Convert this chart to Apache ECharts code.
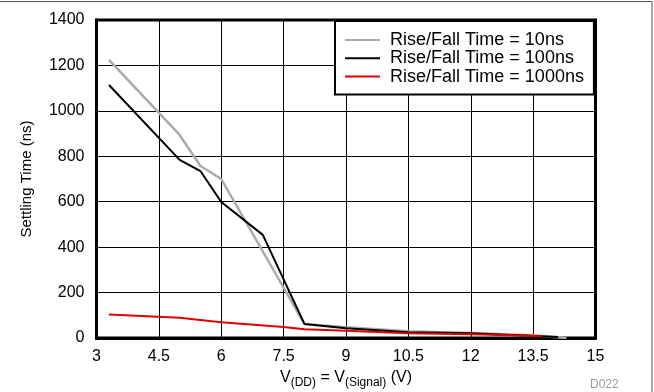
<!DOCTYPE html>
<html>
<head>
<meta charset="utf-8">
<script src="https://cdn.jsdelivr.net/npm/echarts@6/dist/echarts.min.js"></script>
<style>
html,body{margin:0;padding:0;background:#fff;}
#chart{width:654px;height:392px;}
</style>
</head>
<body>
<div id="chart"></div>
<script>
var seriesNames = ['Rise/Fall Time = 10ns', 'Rise/Fall Time = 100ns', 'Rise/Fall Time = 1000ns'];

var x10 = [3.3, 5.0, 5.5, 6.0, 8.0, 9.0, 10.5, 12.0, 13.5, 14.3];
var y10 = [1224, 894, 757, 700, 62, 47, 30, 22, 12, 0];

var x100 = [3.3, 5.0, 5.5, 6.0, 7.0, 8.0, 9.0, 10.5, 12.0, 14.1];
var y100 = [1114, 784, 735, 599, 454, 62, 43, 25, 21, 4];

var x1000 = [3.3, 5.0, 6.0, 7.5, 8.0, 9.0, 10.5, 12.0, 13.7];
var y1000 = [104, 89, 69, 48, 38, 32, 21, 16, 9];

var xTicks = [3, 4.5, 6, 7.5, 9, 10.5, 12, 13.5, 15];
var yTicks = [0, 200, 400, 600, 800, 1000, 1200, 1400];

function pairs(xs, ys) { return xs.map(function (x, i) { return [x, ys[i]]; }); }

var FONT = '"Liberation Sans", Arial, Helvetica, sans-serif';
var colors = ['#aaaaaa', '#000000', '#e00000'];
var widths = [2.5, 2, 2];
var dataSets = [pairs(x10, y10), pairs(x100, y100), pairs(x1000, y1000)];

var chart = echarts.init(document.getElementById('chart'), null, {renderer: 'canvas'});
chart.setOption({
  animation: false,
  backgroundColor: '#fff',
  textStyle: {fontFamily: FONT},
  grid: {
    left: 96.5, right: 58.5, top: 20, bottom: 54,
    show: true, borderColor: '#000', borderWidth: 3, backgroundColor: '#fff',
    outerBoundsMode: 'none'
  },
  legend: {
    orient: 'vertical',
    left: 335, top: 21,
    padding: [10, 10, 9, 10],
    itemGap: 0.3,
    itemWidth: 35, itemHeight: 2,
    icon: 'rect',
    backgroundColor: '#fff',
    borderColor: '#000', borderWidth: 2,
    borderRadius: 0,
    selectedMode: false,
    textStyle: {fontFamily: FONT, fontSize: 18, color: '#000', lineHeight: 18, padding: [0, 0, 0, 5]},
    data: seriesNames
  },
  xAxis: {
    type: 'value', min: xTicks[0], max: xTicks[xTicks.length - 1], interval: 1.5,
    axisLine: {show: true, onZero: false, lineStyle: {color: '#000', width: 3}},
    axisTick: {show: false},
    splitLine: {show: true, lineStyle: {color: '#000', width: 1}},
    axisLabel: {fontFamily: FONT, fontSize: 16, color: '#000', margin: 11},
    name: '{v|V}{s|(DD)}{v| = V}{s|(Signal)}{v| (V)}',
    nameLocation: 'middle',
    nameGap: 32,
    nameTextStyle: {
      fontFamily: FONT, color: '#000', verticalAlign: 'top',
      rich: {
        v: {fontFamily: FONT, fontSize: 16, lineHeight: 16, verticalAlign: 'top', color: '#000'},
        s: {fontFamily: FONT, fontSize: 12, lineHeight: 12, padding: [7, 0, 0, 0], verticalAlign: 'top', color: '#000'}
      }
    }
  },
  yAxis: {
    type: 'value', min: yTicks[0], max: yTicks[yTicks.length - 1], interval: 200,
    axisLine: {show: true, onZero: false, lineStyle: {color: '#000', width: 3}},
    axisTick: {show: false},
    splitLine: {show: true, lineStyle: {color: '#000', width: 1}},
    axisLabel: {fontFamily: FONT, fontSize: 16, color: '#000', margin: 12, formatter: function (v) { return String(v); }},
    name: 'Settling Time (ns)',
    nameLocation: 'middle',
    nameGap: 62,
    nameTextStyle: {fontFamily: FONT, fontSize: 15, color: '#000'}
  },
  graphic: [
    {type: 'line', shape: {x1: 0, y1: 1.5, x2: 652, y2: 1.5}, style: {stroke: '#555', lineWidth: 1}, silent: true},
    {type: 'line', shape: {x1: 652, y1: 1.5, x2: 652, y2: 392}, style: {stroke: '#555', lineWidth: 1}, silent: true},
    {type: 'text', left: 590, top: 379, style: {text: 'D022', fill: '#9a9a9a', font: '12px ' + FONT}, silent: true}
  ],
  series: seriesNames.map(function (name, i) {
    return {
      name: name,
      type: 'line',
      data: dataSets[i],
      showSymbol: false,
      symbol: 'none',
      lineStyle: {color: colors[i], width: widths[i]},
      itemStyle: {color: colors[i]},
      z: 2 + i
    };
  })
});
</script>
</body>
</html>
